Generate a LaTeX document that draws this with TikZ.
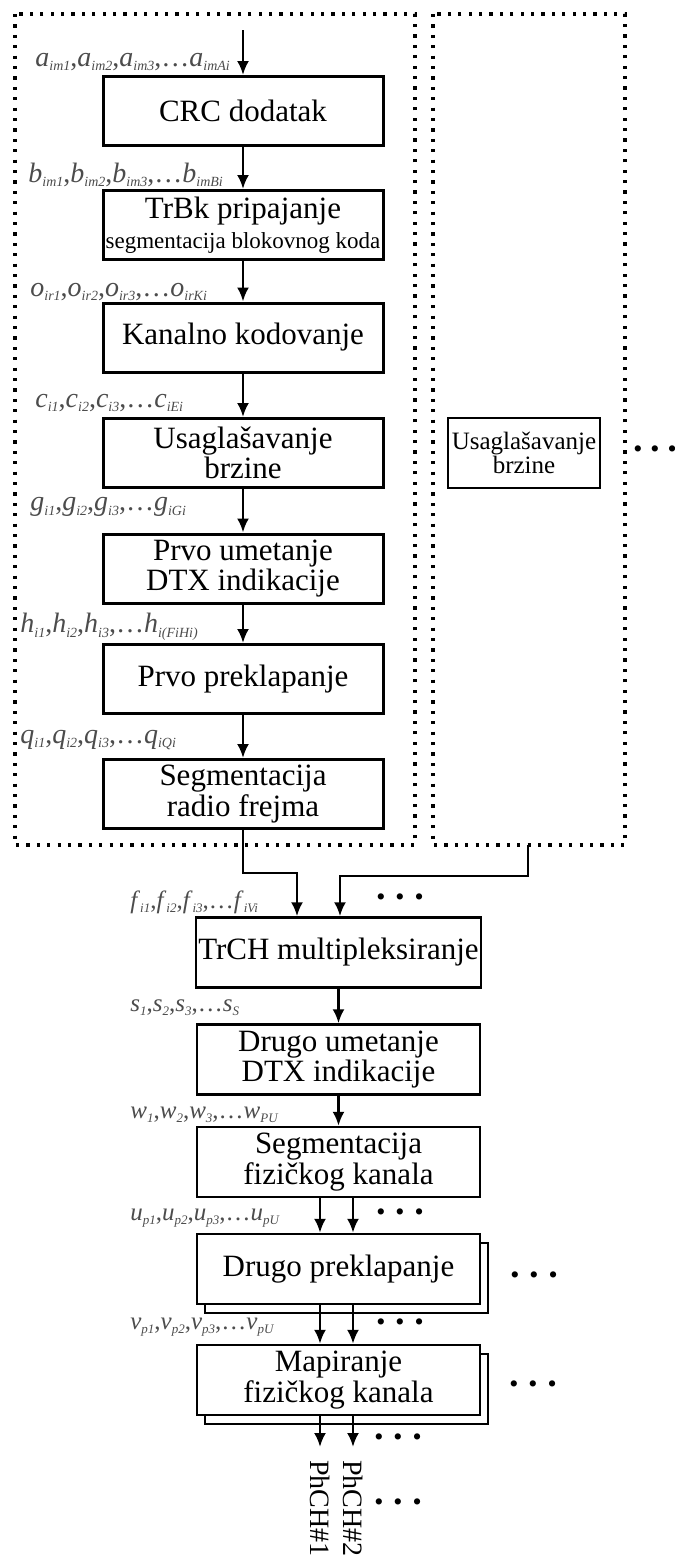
\documentclass[tikz,border=0pt]{standalone}
\usepackage{fontspec}
\setmainfont{Liberation Serif}
\usetikzlibrary{arrows.meta,shadows}
\newcommand{\sy}[2]{\textit{#1}\raisebox{-0.35ex}{\fontsize{7}{7}\selectfont\itshape #2}}
\newcommand{\sym}[2]{\textit{#1}\raisebox{-0.35ex}{\fontsize{6.5}{6.5}\selectfont\itshape #2}}

\begin{document}
\begin{tikzpicture}[x=0.5pt,y=-0.5pt,
    blok/.style={draw, line width=1.5pt, fill=white, minimum width=140pt, minimum height=34.5pt,
        align=center, inner sep=1pt, font=\fontsize{15.5}{14}\selectfont},
    blokd/.style={blok, line width=1.2pt, minimum width=141.5pt, minimum height=35pt},
    kopija/.style={copy shadow={shadow xshift=4pt, shadow yshift=-4.5pt}},
    strel/.style={-{Latex[length=7pt,width=6pt]}, line width=1.3pt},
    oznaka/.style={anchor=west, inner sep=0pt, text=black!70, font=\fontsize{14}{14}\selectfont},
    oznakam/.style={oznaka, font=\fontsize{12.5}{12.5}\selectfont},
    tacke/.style={inner sep=0pt, font=\fontsize{13}{13}\selectfont},
    okvir/.style={line width=1.6pt, dash pattern=on 1.6pt off 3.6pt}]
    \useasboundingbox (0,0) rectangle (675,1560);

    % okviri za transportne kanale
    \draw[okvir] (15,14) rectangle (415,845);
    \draw[okvir] (433,14) rectangle (625,845);

    % prvi transportni kanal
    \coordinate (ulaz) at (243,30);
    \node[blok] (crc)   at (243,111)   {CRC dodatak};
    \node[blok] (trbk)  at (243,225)   {TrBk pripajanje\\[1pt]{\fontsize{11.5}{11.5}\selectfont segmentacija blokovnog koda}};
    \node[blok] (kan)   at (243,337.5) {Kanalno kodovanje};
    \node[blok] (usg)   at (243,453)   {Usaglašavanje\\brzine};
    \node[blok] (dtx1)  at (243,568.5) {Prvo umetanje\\DTX indikacije};
    \node[blok] (prek1) at (243,679)   {Prvo preklapanje};
    \node[blok] (segr)  at (243,794)   {Segmentacija\\radio frejma};

    \draw[strel] (ulaz) -- (crc);
    \foreach \a/\b in {crc/trbk, trbk/kan, kan/usg, usg/dtx1, dtx1/prek1, prek1/segr}
        \draw[strel] (\a) -- (\b);

    \node[oznaka] (la) at (35,62)  {\sy{a}{im1},\sy{a}{im2},\sy{a}{im3},\ldots\sy{a}{imAi}};
    \node[oznaka] (lb) at (28,175) {\sy{b}{im1},\sy{b}{im2},\sy{b}{im3},\ldots\sy{b}{imBi}};
    \node[oznaka] (lo) at (30,292) {\sy{o}{ir1},\sy{o}{ir2},\sy{o}{ir3},\ldots\sy{o}{irKi}};
    \node[oznaka] (lc) at (35,403) {\sy{c}{i1},\sy{c}{i2},\sy{c}{i3},\ldots\sy{c}{iEi}};
    \node[oznaka] (lg) at (30,507) {\sy{g}{i1},\sy{g}{i2},\sy{g}{i3},\ldots\sy{g}{iGi}};
    \node[oznaka] (lh) at (20,627) {\sy{h}{i1},\sy{h}{i2},\sy{h}{i3},\ldots\sy{h}{i(FiHi)}};
    \node[oznaka] (lq) at (20,740) {\sy{q}{i1},\sy{q}{i2},\sy{q}{i3},\ldots\sy{q}{iQi}};

    % drugi transportni kanal
    \node[draw, line width=1.3pt, minimum width=76pt, minimum height=35pt, inner sep=0pt,
        align=center, font=\fontsize{12.5}{12}\selectfont] (usg2) at (524,453) {Usaglašavanje\\brzine};
    \node[tacke] (d0) at (655,452) {•\hspace{4pt}•\hspace{4pt}•};

    % zajednicki deo
    \node[blokd] (trch)  at (338.5,952.5) {TrCH multipleksiranje};
    \node[blokd] (dtx2)  at (338.5,1059.5) {Drugo umetanje\\DTX indikacije};
    \node[blokd] (segf)  at (338.5,1162) {Segmentacija\\fizičkog kanala};
    \node[blokd,kopija] (prek2) at (338.5,1269) {Drugo preklapanje};
    \node[blokd,kopija] (mapa)  at (338.5,1380) {Mapiranje\\fizičkog kanala};

    \coordinate (s1) at (297,873);
    \coordinate (okd) at (528,845);
    \coordinate (s2) at (340,876);
    \draw[strel] (segr.south) |- (s1) -- (s1 |- trch.north);
    \draw[strel] (okd) |- (s2) -- (s2 |- trch.north);
    \draw[strel] (trch) -- (dtx2);
    \draw[strel] (dtx2) -- (segf);
    \foreach \x in {320,353} {
        \draw[strel] (\x,0 |- segf.south) -- (\x,0 |- prek2.north);
        \draw[strel] (\x,0 |- prek2.south) -- (\x,0 |- mapa.north);
        \draw[strel] (\x,0 |- mapa.south) -- (\x,1447);
    }

    \node[oznakam] (lf) at (130,902)  {\sym{f}{i1},\sym{f}{i2},\sym{f}{i3},\ldots\sym{f}{iVi}};
    \node[oznakam] (ls) at (130,1008) {\sym{s}{1},\sym{s}{2},\sym{s}{3},\ldots\sym{s}{S}};
    \node[oznakam] (lw) at (130,1115) {\sym{w}{1},\sym{w}{2},\sym{w}{3},\ldots\sym{w}{PU}};
    \node[oznakam] (lu) at (130,1218) {\sym{u}{p1},\sym{u}{p2},\sym{u}{p3},\ldots\sym{u}{pU}};
    \node[oznakam] (lv) at (130,1327) {\sym{v}{p1},\sym{v}{p2},\sym{v}{p3},\ldots\sym{v}{pU}};

    \node[tacke] (d1) at (400,900)  {•\hspace{5pt}•\hspace{5pt}•};
    \node[tacke] (d2) at (400,1215) {•\hspace{5pt}•\hspace{5pt}•};
    \node[tacke] (d3) at (534,1278) {•\hspace{5pt}•\hspace{5pt}•};
    \node[tacke] (d4) at (400,1325) {•\hspace{5pt}•\hspace{5pt}•};
    \node[tacke] (d5) at (533,1387) {•\hspace{5pt}•\hspace{5pt}•};
    \node[tacke] (d6) at (398,1440) {•\hspace{5pt}•\hspace{5pt}•};
    \node[tacke] (d7) at (398,1505) {•\hspace{5pt}•\hspace{5pt}•};

    % fizicki kanali
    \node[rotate=-90, anchor=west, inner sep=0pt, font=\fontsize{14}{14}\selectfont] (ph1) at (320,1460) {PhCH\#1};
    \node[rotate=-90, anchor=west, inner sep=0pt, font=\fontsize{14}{14}\selectfont] (ph2) at (353,1460) {PhCH\#2};
\end{tikzpicture}
\end{document}
